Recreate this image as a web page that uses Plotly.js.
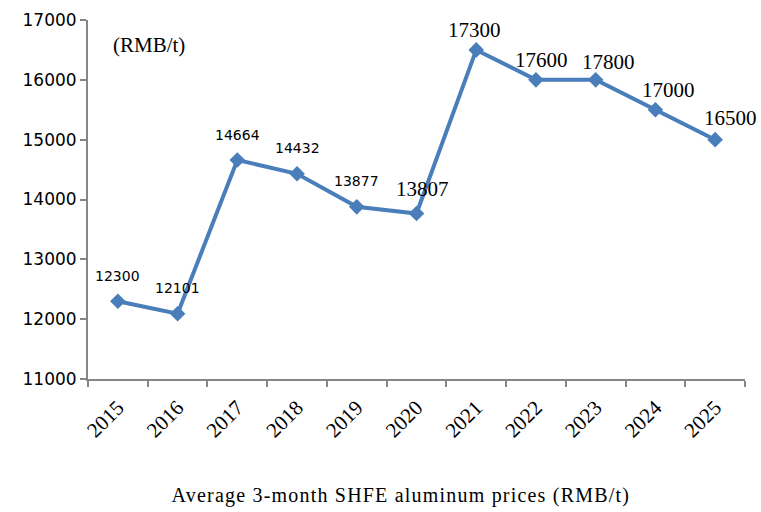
<!DOCTYPE html>
<html><head><meta charset="utf-8">
<script src="https://cdn.plot.ly/plotly-3.0.1.min.js"></script>
<style>body{margin:0;background:#fff}#chart{width:761px;height:512px}
.annotation[data-index="12"] text{letter-spacing:1.2px}</style>
</head><body><div id="chart"></div>
<script>
const years = ["2015","2016","2017","2018","2019","2020","2021","2022","2023","2024","2025"];
const prices = [12300, 12090, 14660, 14430, 13877, 13765, 16500, 16000, 16000, 15500, 15000];
const labels = ["12300","12101","14664","14432","13877","13807","17300","17600","17800","17000","16500"];
const yTicks = [11000, 12000, 13000, 14000, 15000, 16000, 17000];

// label styling / placement (layout only)
const sansCount = 5; // indices 0..4 sans-serif, rest serif
const labXShift = [0, 0, 0, 0, 0, 6, -2, 6, 13, 13, 15];
const labYShift = [25, 26, 25, 26, 26, 25, 20, 20, 18, 20, 22];

const labelAnns = labels.map((t, i) => ({
  x: i, y: prices[i], xref: "x", yref: "y", text: t, showarrow: false,
  xanchor: "center", yanchor: "middle", xshift: labXShift[i], yshift: labYShift[i],
  font: i < sansCount ? {family: "DejaVu Sans", size: 14, color: "#000"}
                      : {family: "Liberation Serif", size: 21, color: "#000"}
}));

const trace = {
  x: years, y: prices,
  mode: "lines+markers", type: "scatter",
  line: {color: "#4a7ebb", width: 4},
  marker: {symbol: "diamond", size: 12, color: "#4a7ebb"},
  cliponaxis: false, hoverinfo: "none"
};
const layout = {
  width: 761, height: 512,
  margin: {l: 88, r: 16, t: 20, b: 133},
  paper_bgcolor: "#fff", plot_bgcolor: "#fff",
  showlegend: false,
  xaxis: {type: "category", range: [-0.5, 10.5], showgrid: false, zeroline: false,
    showline: true, linecolor: "#868686", linewidth: 2,
    ticks: "outside", tickson: "boundaries", ticklen: 6, tickcolor: "#868686", tickwidth: 2,
    ticklabelstandoff: 6,
    tickangle: -45, tickfont: {family: "Liberation Serif", size: 21, color: "#000"}},
  yaxis: {range: [11000, 17000], tickvals: yTicks, ticktext: yTicks.map(String),
    showgrid: false, zeroline: false, showline: true, linecolor: "#868686", linewidth: 2,
    ticks: "outside", ticklen: 6, tickcolor: "#868686", tickwidth: 2,
    tickfont: {family: "DejaVu Sans", size: 17, color: "#000"}},
  annotations: labelAnns.concat([
    {text: "(RMB/t)", xref: "paper", yref: "paper", x: 0.035, y: 0.93, xanchor: "left", yanchor: "middle",
     showarrow: false, font: {family: "Liberation Serif", size: 21, color: "#000"}},
    {text: "Average 3-month SHFE aluminum prices (RMB/t)", xref: "paper", yref: "paper",
     x: 0.476, y: -0.325, xanchor: "center", yanchor: "middle", showarrow: false,
     font: {family: "Liberation Serif", size: 20, color: "#000"}}
  ])
};
Plotly.newPlot("chart", [trace], layout, {displayModeBar: false, staticPlot: true});
</script></body></html>
